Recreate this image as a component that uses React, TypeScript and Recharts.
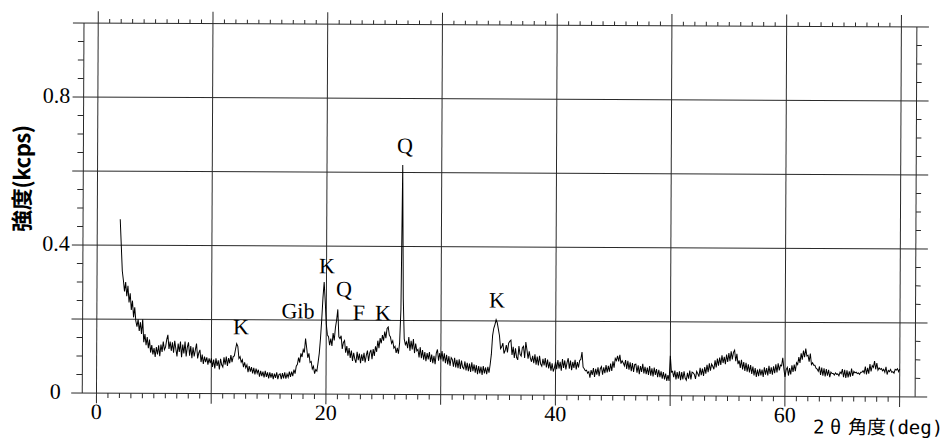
import React from 'react';
import { LineChart, Line, XAxis, YAxis, ReferenceLine, ReferenceDot } from 'recharts';

// ---- data: XRD intensity (kcps), 2θ from 2.0° in 0.1° steps ----
const START_2THETA = 2.0;
const STEP_2THETA = 0.1;

const seg02to10 = [
  0.470, 0.400, 0.330, 0.305, 0.275, 0.300, 0.262, 0.290, 0.245, 0.270,
  0.225, 0.250, 0.205, 0.232, 0.195, 0.180, 0.200, 0.168, 0.192, 0.160,
  0.200, 0.138, 0.160, 0.130, 0.152, 0.122, 0.145, 0.110, 0.130, 0.105,
  0.122, 0.098, 0.125, 0.105, 0.130, 0.100, 0.132, 0.112, 0.140, 0.118,
  0.125, 0.145, 0.158, 0.120, 0.140, 0.115, 0.138, 0.110, 0.142, 0.120,
  0.100, 0.135, 0.112, 0.140, 0.098, 0.132, 0.108, 0.140, 0.100, 0.125,
  0.138, 0.102, 0.128, 0.095, 0.125, 0.100, 0.118, 0.135, 0.095, 0.110,
  0.118, 0.085, 0.105, 0.080, 0.100, 0.085, 0.098, 0.078, 0.095, 0.082,
];
const seg10to20 = [
  0.095, 0.072, 0.092, 0.068, 0.095, 0.075, 0.090, 0.065, 0.094, 0.078,
  0.072, 0.098, 0.078, 0.100, 0.075, 0.096, 0.082, 0.104, 0.085, 0.100,
  0.102, 0.120, 0.135, 0.128, 0.095, 0.100, 0.085, 0.092, 0.072, 0.085,
  0.070, 0.078, 0.058, 0.075, 0.060, 0.072, 0.055, 0.070, 0.052, 0.068,
  0.055, 0.065, 0.046, 0.062, 0.048, 0.060, 0.044, 0.062, 0.046, 0.058,
  0.042, 0.058, 0.044, 0.056, 0.040, 0.055, 0.043, 0.058, 0.040, 0.052,
  0.054, 0.040, 0.056, 0.042, 0.058, 0.041, 0.054, 0.045, 0.060, 0.046,
  0.060, 0.048, 0.066, 0.055, 0.075, 0.080, 0.098, 0.085, 0.110, 0.100,
  0.120, 0.112, 0.150, 0.125, 0.098, 0.110, 0.085, 0.088, 0.068, 0.075,
  0.055, 0.066, 0.062, 0.085, 0.110, 0.150, 0.200, 0.260, 0.303, 0.250,
];
const seg20to30 = [
  0.190, 0.160, 0.155, 0.132, 0.150, 0.130, 0.165, 0.145, 0.180, 0.200,
  0.229, 0.155, 0.150, 0.158, 0.122, 0.140, 0.145, 0.112, 0.130, 0.104,
  0.125, 0.098, 0.118, 0.090, 0.112, 0.095, 0.085, 0.115, 0.092, 0.110,
  0.084, 0.108, 0.090, 0.112, 0.086, 0.105, 0.118, 0.090, 0.112, 0.120,
  0.095, 0.122, 0.104, 0.130, 0.115, 0.145, 0.125, 0.152, 0.138, 0.160,
  0.145, 0.170, 0.152, 0.178, 0.182, 0.160, 0.155, 0.138, 0.145, 0.125,
  0.130, 0.112, 0.126, 0.110, 0.140, 0.230, 0.620, 0.260, 0.150, 0.135,
  0.142, 0.125, 0.155, 0.118, 0.145, 0.122, 0.150, 0.112, 0.138, 0.118,
  0.122, 0.100, 0.128, 0.098, 0.120, 0.094, 0.115, 0.090, 0.112, 0.095,
  0.115, 0.088, 0.108, 0.085, 0.105, 0.082, 0.112, 0.122, 0.092, 0.112,
];
const seg30to40 = [
  0.095, 0.118, 0.090, 0.112, 0.085, 0.108, 0.082, 0.104, 0.078, 0.100,
  0.095, 0.076, 0.100, 0.074, 0.094, 0.072, 0.096, 0.070, 0.092, 0.074,
  0.070, 0.090, 0.066, 0.086, 0.064, 0.084, 0.062, 0.088, 0.064, 0.082,
  0.060, 0.080, 0.056, 0.078, 0.058, 0.076, 0.054, 0.078, 0.058, 0.074,
  0.056, 0.076, 0.060, 0.082, 0.110, 0.160, 0.180, 0.190, 0.203, 0.195,
  0.178, 0.160, 0.125, 0.130, 0.140, 0.112, 0.120, 0.135, 0.115, 0.140,
  0.145, 0.148, 0.108, 0.130, 0.100, 0.126, 0.102, 0.095, 0.132, 0.110,
  0.105, 0.128, 0.132, 0.100, 0.143, 0.122, 0.098, 0.118, 0.100, 0.090,
  0.106, 0.086, 0.110, 0.082, 0.104, 0.080, 0.106, 0.084, 0.078, 0.098,
  0.080, 0.100, 0.075, 0.096, 0.072, 0.090, 0.066, 0.086, 0.064, 0.074,
];
const seg40to50 = [
  0.090, 0.070, 0.095, 0.072, 0.090, 0.066, 0.098, 0.074, 0.094, 0.070,
  0.088, 0.100, 0.072, 0.094, 0.068, 0.090, 0.074, 0.096, 0.070, 0.090,
  0.075, 0.094, 0.097, 0.117, 0.076, 0.072, 0.066, 0.068, 0.060, 0.064,
  0.048, 0.068, 0.055, 0.074, 0.050, 0.072, 0.056, 0.076, 0.052, 0.072,
  0.078, 0.056, 0.076, 0.060, 0.082, 0.062, 0.080, 0.064, 0.086, 0.066,
  0.092, 0.075, 0.100, 0.094, 0.107, 0.092, 0.110, 0.086, 0.094, 0.088,
  0.080, 0.096, 0.072, 0.094, 0.070, 0.090, 0.066, 0.088, 0.064, 0.084,
  0.085, 0.062, 0.082, 0.058, 0.080, 0.064, 0.086, 0.060, 0.078, 0.058,
  0.076, 0.056, 0.080, 0.054, 0.074, 0.052, 0.076, 0.056, 0.072, 0.050,
  0.070, 0.050, 0.066, 0.046, 0.064, 0.044, 0.060, 0.040, 0.056, 0.040,
];
const seg50to60 = [
  0.108, 0.064, 0.066, 0.050, 0.068, 0.044, 0.064, 0.046, 0.066, 0.042,
  0.064, 0.044, 0.066, 0.048, 0.042, 0.062, 0.046, 0.068, 0.044, 0.064,
  0.062, 0.058, 0.046, 0.066, 0.060, 0.052, 0.076, 0.056, 0.074, 0.054,
  0.078, 0.060, 0.084, 0.064, 0.088, 0.068, 0.086, 0.080, 0.072, 0.096,
  0.077, 0.101, 0.082, 0.104, 0.084, 0.110, 0.089, 0.106, 0.086, 0.112,
  0.092, 0.116, 0.094, 0.121, 0.099, 0.118, 0.124, 0.094, 0.114, 0.086,
  0.096, 0.076, 0.098, 0.072, 0.092, 0.068, 0.090, 0.066, 0.086, 0.064,
  0.084, 0.060, 0.080, 0.056, 0.076, 0.052, 0.072, 0.054, 0.074, 0.056,
  0.072, 0.052, 0.078, 0.058, 0.076, 0.056, 0.082, 0.060, 0.078, 0.058,
  0.081, 0.062, 0.086, 0.064, 0.089, 0.070, 0.084, 0.082, 0.104, 0.074,
];
const seg60to70 = [
  0.052, 0.072, 0.078, 0.056, 0.076, 0.059, 0.084, 0.066, 0.086, 0.068,
  0.091, 0.086, 0.106, 0.090, 0.116, 0.099, 0.124, 0.106, 0.129, 0.109,
  0.111, 0.094, 0.116, 0.086, 0.091, 0.084, 0.084, 0.076, 0.074, 0.068,
  0.081, 0.058, 0.078, 0.056, 0.076, 0.054, 0.074, 0.056, 0.072, 0.052,
  0.066, 0.062, 0.062, 0.058, 0.064, 0.060, 0.061, 0.056, 0.066, 0.062,
  0.074, 0.052, 0.072, 0.050, 0.071, 0.052, 0.068, 0.054, 0.076, 0.056,
  0.068, 0.064, 0.066, 0.062, 0.064, 0.060, 0.066, 0.066, 0.070, 0.064,
  0.081, 0.060, 0.078, 0.062, 0.088, 0.068, 0.084, 0.079, 0.096, 0.074,
  0.091, 0.072, 0.078, 0.074, 0.076, 0.070, 0.074, 0.066, 0.081, 0.060,
  0.071, 0.068, 0.074, 0.066, 0.068, 0.064, 0.074, 0.072, 0.076, 0.068,
  0.075,
];

const intensity = [
  ...seg02to10, ...seg10to20, ...seg20to30, ...seg30to40,
  ...seg40to50, ...seg50to60, ...seg60to70,
];
const data = intensity.map((v, i) => ({
  t: Math.round((START_2THETA + i * STEP_2THETA) * 10) / 10,
  v,
}));

// ---- ticks / grid ----
const xLabelTicks = [0, 20, 40, 60];
const yLabelTicks = [0, 0.4, 0.8];
const xGridValues = [0, 10, 20, 30, 40, 50, 60, 70];
const yGridValues = [0, 0.2, 0.4, 0.6, 0.8, 1.0];
const xMinorTicks = Array.from({ length: 69 }, (_, i) => i + 1).filter((v) => v % 10 !== 0);
const yMinorTicks = Array.from({ length: 19 }, (_, i) => Math.round((i + 1) * 5) / 100).filter(
  (v) => Math.round(v * 100) % 20 !== 0
);

// ---- peak annotations ----
const peakNames = ['K', 'Gib', 'K', 'Q', 'F', 'K', 'Q', 'K'];
const peakLabel2Theta = [12.57, 17.53, 20.04, 21.53, 22.84, 24.94, 26.78, 34.87];
const peakLabelLevel = [0.18, 0.224, 0.346, 0.284, 0.22, 0.22, 0.672, 0.256];

// ---- frame geometry in data units ----
const X_DOMAIN: [number, number] = [-2.205, 72.4];
const Y_DOMAIN: [number, number] = [-0.0276, 1.0319];
const LEFT_AXIS = -1.24;
const RIGHT_AXIS = 71.35;
const TOP_EDGE = 1.0;
const LEFT_TICK_LEN = 0.52;
const RIGHT_TICK_LEN = 0.44;
const TOP_TICK_LEN = 0.011;
const BOTTOM_TICK_LEN = 0.0135;

const SERIF = '"Liberation Serif", "Times New Roman", Times, serif';
const CJK = '"Noto Sans CJK JP", "Noto Sans", sans-serif';
const MONO = '"DejaVu Sans Mono", "Liberation Mono", monospace';
const LINE = '#2a2a2a';

const serifText = (x: number, y: number, s: string, dy: number) => (
  <text x={x} y={y} dy={dy} textAnchor="middle" fontFamily={SERIF} fontSize={22} fill="#000">
    {s}
  </text>
);

const centerOf = (props: any) => {
  const vb = props.viewBox || {};
  return { cx: (vb.x || 0) + (vb.width || 0) / 2, cy: (vb.y || 0) + (vb.height || 0) / 2 };
};

// x tick label just below the 0-line, at value v
const xTickLabel = (value: number) => (props: any) => {
  const { cx, cy } = centerOf(props);
  return serifText(cx, cy, String(value), 26);
};

// y tick label, a column to the left of the left axis
const yTickLabel = (value: number) => (props: any) => {
  const { cx, cy } = centerOf(props);
  return serifText(cx - 27, cy, String(value), 6);
};

const peakLabel = (name: string) => (props: any) => {
  const { cx, cy } = centerOf(props);
  return serifText(cx, cy, name, 7.3);
};

const XTitle = () => (
  <text y={432} fontSize={19} fill="#000">
    <tspan x={814} fontFamily={MONO}>2</tspan>
    <tspan x={831} fontFamily={CJK}>θ</tspan>
    <tspan x={849} fontFamily={CJK}>角度</tspan>
    <tspan x={887} fontFamily={MONO}>(deg)</tspan>
  </text>
);

const YTitle = () => (
  <text
    x={20}
    y={180.5}
    transform="rotate(-90 20 180.5)"
    textAnchor="middle"
    dominantBaseline="central"
    fontFamily={CJK}
    fontSize={22}
    fontWeight={600}
    fill="#000"
    textLength={107}
    lengthAdjust="spacing"
  >
    強度(kcps)
  </text>
);

export default function App() {
  return (
    <div style={{ position: 'fixed', left: 0, top: 0, width: 948, height: 439, overflow: 'hidden', background: '#fff' }}>
      <div style={{ width: 948, height: 439, transform: 'rotate(0.27deg)', transformOrigin: '474px 219.5px' }}>
        <LineChart width={948} height={439} data={data} margin={{ top: 13, right: 20, bottom: 34, left: 72 }}>
          <XAxis type="number" dataKey="t" domain={X_DOMAIN} allowDataOverflow hide />
          <YAxis type="number" domain={Y_DOMAIN} allowDataOverflow hide />

          {yGridValues.map((v) => (
            <ReferenceLine key={`hg${v}`} y={v} stroke={LINE} strokeWidth={1} ifOverflow="visible" />
          ))}
          {xGridValues.map((v) => (
            <ReferenceLine key={`vg${v}`} x={v} stroke={LINE} strokeWidth={1} ifOverflow="visible" />
          ))}
          <ReferenceLine
            segment={[{ x: LEFT_AXIS, y: 0 }, { x: LEFT_AXIS, y: TOP_EDGE }]}
            stroke={LINE}
            strokeWidth={1}
            ifOverflow="visible"
          />
          <ReferenceLine
            segment={[{ x: RIGHT_AXIS, y: 0 }, { x: RIGHT_AXIS, y: TOP_EDGE }]}
            stroke={LINE}
            strokeWidth={1}
            ifOverflow="visible"
          />
          {yMinorTicks.map((v) => (
            <ReferenceLine
              key={`lt${v}`}
              segment={[{ x: LEFT_AXIS - LEFT_TICK_LEN, y: v }, { x: LEFT_AXIS, y: v }]}
              stroke={LINE}
              strokeWidth={1}
              ifOverflow="visible"
            />
          ))}
          {yMinorTicks.map((v) => (
            <ReferenceLine
              key={`rt${v}`}
              segment={[{ x: RIGHT_AXIS, y: v }, { x: RIGHT_AXIS + RIGHT_TICK_LEN, y: v }]}
              stroke={LINE}
              strokeWidth={1}
              ifOverflow="visible"
            />
          ))}
          {xMinorTicks.map((v) => (
            <ReferenceLine
              key={`tt${v}`}
              segment={[{ x: v, y: TOP_EDGE }, { x: v, y: TOP_EDGE + TOP_TICK_LEN }]}
              stroke={LINE}
              strokeWidth={1}
              ifOverflow="visible"
            />
          ))}
          {xMinorTicks.map((v) => (
            <ReferenceLine
              key={`bt${v}`}
              segment={[{ x: v, y: 0 }, { x: v, y: -BOTTOM_TICK_LEN }]}
              stroke={LINE}
              strokeWidth={1}
              ifOverflow="visible"
            />
          ))}

          <Line
            type="linear"
            dataKey="v"
            stroke="#000"
            strokeWidth={1}
            dot={false}
            activeDot={false}
            isAnimationActive={false}
          />

          {xLabelTicks.map((v) => (
            <ReferenceDot
              key={`xl${v}`}
              x={v}
              y={0}
              r={1}
              fill="none"
              stroke="none"
              ifOverflow="visible"
              label={xTickLabel(v)}
            />
          ))}
          {yLabelTicks.map((v) => (
            <ReferenceDot
              key={`yl${v}`}
              x={LEFT_AXIS}
              y={v}
              r={1}
              fill="none"
              stroke="none"
              ifOverflow="visible"
              label={yTickLabel(v)}
            />
          ))}
          {peakNames.map((name, i) => (
            <ReferenceDot
              key={`pk${i}`}
              x={peakLabel2Theta[i]}
              y={peakLabelLevel[i]}
              r={1}
              fill="none"
              stroke="none"
              ifOverflow="visible"
              label={peakLabel(name)}
            />
          ))}
          <ReferenceDot x={70} y={0} r={1} fill="none" stroke="none" ifOverflow="visible" label={XTitle} />
          <ReferenceDot x={LEFT_AXIS} y={0.5} r={1} fill="none" stroke="none" ifOverflow="visible" label={YTitle} />
        </LineChart>
      </div>
    </div>
  );
}
